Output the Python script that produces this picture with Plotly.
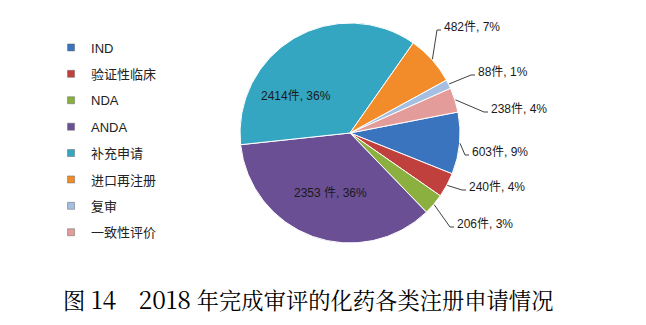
import math
import plotly.graph_objects as go

categories = ["IND", "验证性临床", "NDA", "ANDA", "补充申请", "进口再注册", "复审", "一致性评价"]
values = [603, 240, 206, 2353, 2414, 482, 88, 238]
pct_labels = ["9%", "4%", "3%", "36%", "36%", "7%", "1%", "4%"]
unit_sep = ["件", "件", "件", " 件", "件", "件", "件", "件"]
colors = ["#3A74BE", "#C0403D", "#8BB040", "#6A4F94", "#34A6C2", "#F28C2A", "#A5BFE3", "#E39C9A"]

texts = [f"{v}{u}, {p}" for v, u, p in zip(values, unit_sep, pct_labels)]

# ---- layout constants (pixels in a 646x325 canvas) ----
W, H = 646, 325
CX, CY, R = 350, 133, 110
ROTATION = 79
# label placement: category -> (text left x, leader line y) for outside labels
outside_pos = {
    "进口再注册": (442, 30),
    "复审": (476, 75),
    "一致性评价": (489, 112),
    "IND": (470, 155),
    "验证性临床": (467, 190),
    "NDA": (455, 227),
}
# inside labels: category -> (center x, center y)
inside_pos = {
    "补充申请": (296, 96),
    "ANDA": (330, 193),
}


def px(x):
    return x / W


def py(y):
    return 1 - y / H


sans = "Liberation Sans, Arial, Noto Sans CJK SC, sans-serif"

fig = go.Figure()
fig.add_trace(go.Pie(
    labels=categories, values=values,
    textinfo="none",
    sort=False, direction="clockwise", rotation=ROTATION,
    marker=dict(colors=colors, line=dict(color="white", width=1)),
    showlegend=False, hoverinfo="label+value+percent",
    domain=dict(x=[px(CX - R), px(CX + R)], y=[py(CY + R), py(CY - R)]),
))

for i, (c, col) in enumerate(zip(categories, colors)):
    fig.add_trace(go.Scatter(
        x=[None], y=[None], mode="markers", name=c,
        marker=dict(symbol="square", size=7, color=col, line=dict(color="#666666", width=0.5)),
        legendgroup=f"g{i}", showlegend=True,
    ))

annotations = []
shapes = []
total = sum(values)
cum = 0.0
for c, v, t in zip(categories, values, texts):
    mid = ROTATION + (cum + v / 2) / total * 360
    cum += v
    a = math.radians(mid)
    if c in outside_pos:
        tx, ly = outside_pos[c]
        sx = CX + R * 1.005 * math.sin(a)
        sy = CY - R * 1.005 * math.cos(a)
        ex = tx - 5
        path = f"M {px(sx)},{py(sy)} L {px(ex)},{py(ly)} L {px(tx - 1)},{py(ly)}"
        shapes.append(dict(type="path", xref="paper", yref="paper", path=path,
                           line=dict(color="#404040", width=1)))
        annotations.append(dict(text=t, x=px(tx), y=py(ly - 3), xref="paper", yref="paper",
                                showarrow=False, xanchor="left", yanchor="middle",
                                font=dict(family=sans, size=12, color="#1a1a1a")))
    else:
        ix, iy = inside_pos[c]
        annotations.append(dict(text=t, x=px(ix), y=py(iy), xref="paper", yref="paper",
                                showarrow=False, xanchor="center", yanchor="middle",
                                font=dict(family=sans, size=12, color="#1a1a1a")))

serif = "Noto Serif CJK SC, Liberation Serif, Times New Roman, serif"
title_text = ("图 <span style='font-size:24.5px'>14</span>　"
              "<span style='font-size:24.5px'>2018</span> 年完成审评的化药各类注册申请情况")
annotations.append(dict(
    text=title_text, x=px(61), y=py(298), xref="paper", yref="paper", showarrow=False,
    xanchor="left", yanchor="middle",
    font=dict(family=serif, size=22.3, color="#000000"),
))

fig.update_layout(
    width=W, height=H,
    margin=dict(l=0, r=0, t=0, b=0),
    paper_bgcolor="white", plot_bgcolor="white",
    xaxis=dict(visible=False), yaxis=dict(visible=False),
    legend=dict(x=0.079, y=0.9, xanchor="left", yanchor="top",
                font=dict(family=sans, size=13, color="#222222"),
                tracegroupgap=6.5, itemwidth=30, bgcolor="rgba(0,0,0,0)"),
    annotations=annotations,
    shapes=shapes,
)

fig.write_html("out.html")
